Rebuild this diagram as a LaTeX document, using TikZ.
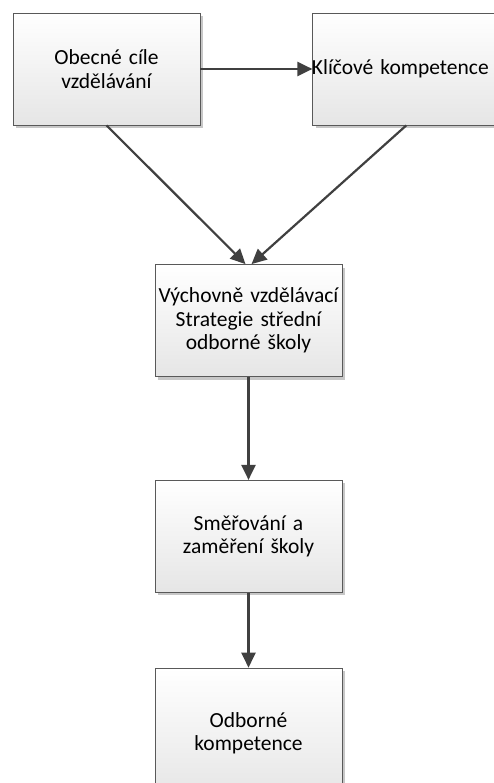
\documentclass[tikz,border=0pt]{standalone}
\usepackage{fontspec}
\setmainfont{Carlito}
\usetikzlibrary{arrows.meta, positioning, shadows}

\begin{document}
\begin{tikzpicture}[
    x=1pt, y=1pt,
    >={Triangle[length=15pt,width=14pt]},
    node distance=112pt,
    box/.style={
        rectangle,
        draw=black!65,
        line width=0.8pt,
        top color=white,
        bottom color=black!10,
        align=center,
        text width=185pt,
        minimum width=187pt,
        minimum height=112pt,
        inner sep=1pt,
        font=\fontsize{21.5}{23.5}\selectfont,
        drop shadow={shadow xshift=3pt, shadow yshift=-3pt, fill=black!22, opacity=1}
    },
    link/.style={->, line width=2.2pt, draw=black!75, fill=black!75}
]
\useasboundingbox (0,0) rectangle (493,-783);

% Nodes
\node[box] (goals) at (106.5,-69) {Obecné cíle\\vzdělávání};
\node[box] (keycomp) [right=of goals] {\hspace*{-12pt}Klíčové kompetence};
\node[box] (strategy) at (248.5,-320.5) {Výchovně vzdělávací\\Strategie střední\\odborné školy};
\node[box] (focus) [below=103pt of strategy] {Směřování a\\zaměření školy};
\node[box, minimum height=130pt] (profcomp) [below=75pt of focus] {Odborné\\kompetence};

% Edges
\draw[link] (goals) -- (keycomp);
\draw[link] (goals.south) -- ([xshift=-3pt]strategy.north);
\draw[link] (keycomp.south) -- ([xshift=3pt]strategy.north);
\draw[link] (strategy) -- (focus);
\draw[link] (focus) -- (profcomp);

\end{tikzpicture}
\end{document}
